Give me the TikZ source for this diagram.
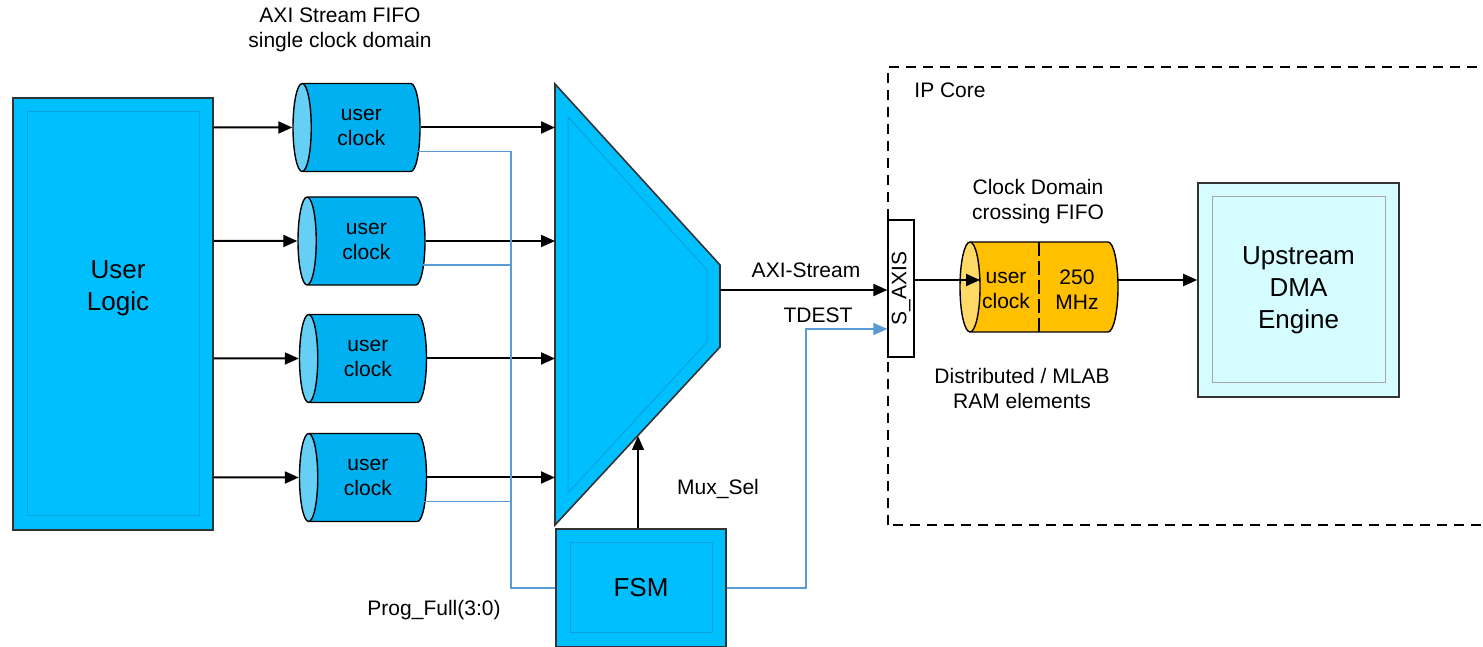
\documentclass[tikz,border=0pt]{standalone}
\usepackage{fontspec}
\setmainfont{Liberation Sans}
\usetikzlibrary{shapes.geometric, arrows.meta, positioning, calc}
\definecolor{blockblue}{HTML}{00BFFF}
\definecolor{bevelblue}{HTML}{0AA3D6}
\definecolor{fifoblue}{HTML}{00B0F0}
\definecolor{fifocap}{HTML}{66CFF5}
\definecolor{fifogold}{HTML}{FFC000}
\definecolor{goldcap}{HTML}{FFD966}
\definecolor{dmacyan}{HTML}{D5FCFF}
\definecolor{siglink}{HTML}{5B9BD5}

\begin{document}
\begin{tikzpicture}[
    x=0.5pt, y=0.5pt,
    font=\fontsize{10.5}{12.5}\selectfont,
    big/.style={font=\fontsize{13}{16}\selectfont, align=center},
    blk/.style 2 args={draw=black!80, line width=0.8pt, fill=#1, inner sep=0pt, align=center,
        path picture={\draw[#2, line width=0.5pt] ([shift={(7pt,-7pt)}]path picture bounding box.north west) rectangle ([shift={(-7pt,7pt)}]path picture bounding box.south east);}},
    fifo/.style={cylinder, shape border rotate=180, aspect=0.5, draw, line width=0.7pt,
        cylinder uses custom fill, cylinder body fill=fifoblue, cylinder end fill=fifocap,
        minimum height=63.5pt, minimum width=44pt, inner sep=0pt, align=center, anchor=shape center},
    lbl/.style={align=center},
    arr/.style={-{Triangle[length=7pt, width=6pt]}, line width=1pt},
    sig/.style={siglink, line width=0.6pt},
    sigarr/.style={sig, -{Triangle[length=7pt, width=6pt]}},
    ipbox/.style={dash pattern=on 5pt off 3.5pt, line width=1pt},
]
\useasboundingbox (0,0) rectangle (1483,647);

% user side
\node[blk={blockblue}{bevelblue}, minimum width=100pt, minimum height=216pt] (ul) at (113,333) {};
\node[big] (ultxt) at (118,359) {User\\Logic};

\node[fifo] (f1) at (356.5,519.5) {user\\clock};
\node[fifo] (f2) at (361.5,406) {user\\clock};
\node[fifo] (f3) at (363,288.5) {user\\clock};
\node[fifo] (f4) at (363,169.5) {user\\clock};
\node[lbl] (fifottl) at (340,617) {AXI Stream FIFO\\single clock domain};

% mux + fsm
\draw[draw=black!80, line width=0.8pt, fill=blockblue] (555,563) -- (720,382) -- (720,300) -- (555,122) -- cycle;
\draw[bevelblue, line width=0.5pt] (568,530) -- (707,377) -- (707,305) -- (568,154) -- cycle;
\coordinate (muxw) at (555,300);
\coordinate (muxout) at (720,357);
\coordinate (muxsel) at (638,211);

\node[blk={blockblue}{bevelblue}, big, minimum width=85pt, minimum height=59pt] (fsm) at (641,59) {FSM};

\foreach \f in {f1,f2,f3,f4} {
    \draw[arr] (ul.east |- \f) -- (\f);
    \draw[arr] (\f) -- (\f -| muxw);
}

\coordinate (bus) at (511,58);
\draw[sig] (fsm.west) -- (fsm.west -| bus) |- ($(f1.shape center)+(30.5pt,-12pt)$);
\foreach \f in {f2,f4}
    \draw[sig] ($(\f.shape center)+(30.5pt,-12pt)$) -| (bus);

\draw[arr, line width=0.7pt] (fsm.north -| muxsel) -- (muxsel);
\node[lbl] (sellbl) at (718,158) {Mux\_Sel};
\node[lbl] (proglbl) at (434,37) {Prog\_Full(3:0)};

% IP core
\draw[ipbox] (888,122) rectangle (1500,580);
\node[lbl] (iplbl) at (950,557) {IP Core};

\node[draw, line width=0.6pt, fill=white, minimum width=13pt, minimum height=68.5pt, inner sep=0pt] (saxis) at (901,358.5) {\rotatebox{90}{S\_AXIS}};

\draw[arr] (muxout) -- (muxout -| saxis.west);
\node[lbl] (axilbl) at (806,377) {AXI-Stream};

\coordinate (tdturn) at (806,318);
\draw[sigarr] (fsm.east) -| (tdturn) -- (tdturn -| saxis.west);
\node[lbl] (tdlbl) at (818,332) {TDEST};

\node[fifo, cylinder body fill=fifogold, cylinder end fill=goldcap, minimum height=79pt, minimum width=45pt,
    text height=14pt, text depth=6pt] (ccf) at (1039,360) {};
\draw[dash pattern=on 7pt off 2.5pt, line width=0.8pt] ($(ccf.shape center)+(0,22.5pt)$) -- ($(ccf.shape center)+(0,-22.5pt)$);
\node[lbl] (ccfa) at (1006,357) {user\\clock};
\node[lbl] (ccfb) at (1077,357) {250\\MHz};
\node[lbl] (ccfttl) at (1038,445) {Clock Domain\\crossing FIFO};
\node[lbl] (ramlbl) at (1022,259) {Distributed / MLAB\\RAM elements};

\node[blk={dmacyan}{black!35}, big, minimum width=100.5pt, minimum height=107pt] (dma) at (1298.5,357) {Upstream\\DMA\\Engine};

\draw[arr] ([yshift=4.25pt]saxis.east) -- ($(ccf.shape center)+(-29.5pt,3.5pt)$);
\draw[arr] ($(ccf.shape center)+(39.5pt,3.5pt)$) coordinate (ccfo) -- (ccfo -| dma.west);

\end{tikzpicture}
\end{document}
